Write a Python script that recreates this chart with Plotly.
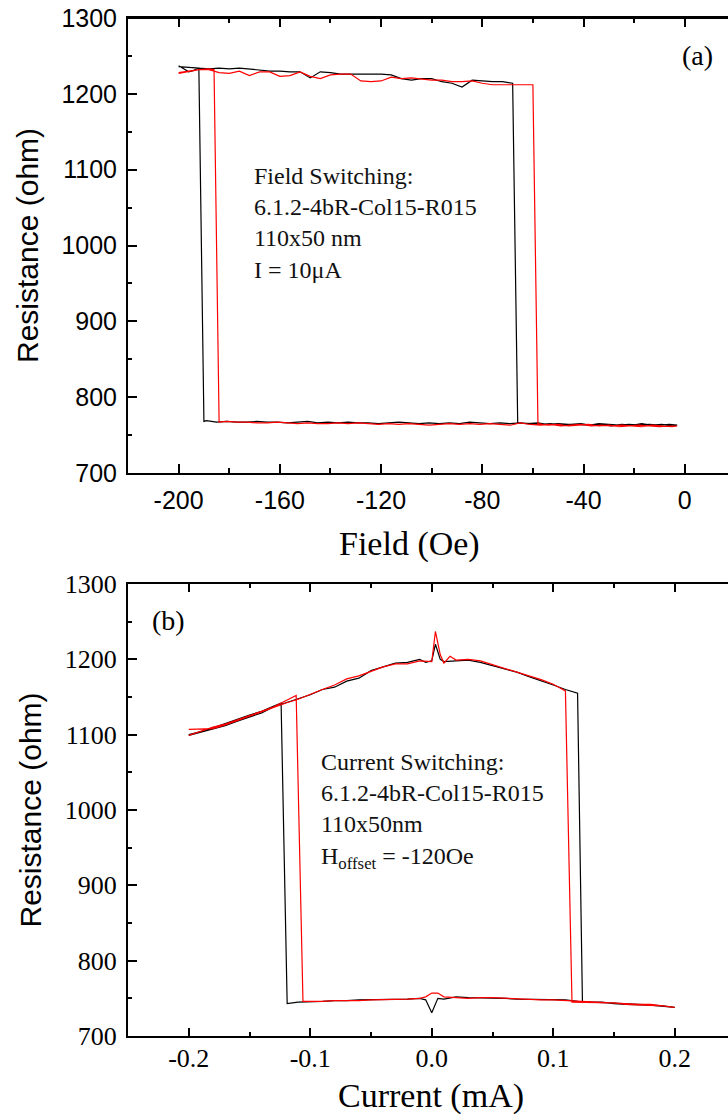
import plotly.graph_objects as go

# ---------------- Panel (a): field switching ----------------
# black loop
a_blk_up_hi_x = [-200, -196, -192, -188, -184, -180, -176, -172, -168, -164, -160, -156, -152, -148, -144, -140, -136,
                 -132, -128, -124, -120, -116, -112, -108, -104, -100, -96, -92, -88, -84, -80, -76, -72, -68]
a_blk_up_hi_y = [1236, 1235, 1234, 1233, 1234, 1233, 1234, 1233, 1232, 1230, 1230, 1229, 1229, 1221, 1229, 1228, 1226,
                 1226, 1226, 1226, 1226, 1225, 1220, 1218, 1220, 1220, 1216, 1214, 1209, 1218, 1217, 1216, 1216, 1214]
a_blk_up_lo_x = [-66, -62, -58, -54, -50, -46, -42, -38, -34, -30, -26, -22, -18, -14, -10, -6, -3]
a_blk_up_lo_y = [766, 765, 766, 764, 765, 764, 764, 763, 765, 764, 763, 764, 763, 764, 763, 764, 763]
a_blk_dn_lo_x = [-5, -9, -13, -17, -21, -25, -29, -33, -37, -41, -45, -49, -53, -57, -61, -65, -69, -73, -77, -81,
                 -85, -89, -93, -97, -101, -105, -109, -113, -117, -121, -125, -129, -133, -137, -141, -145, -149,
                 -153, -157, -161, -165, -169, -173, -177, -181, -185, -189, -190]
a_blk_dn_lo_y = [762, 764, 763, 765, 763, 764, 762, 764, 763, 765, 764, 763, 765, 764, 765, 766, 765, 766, 765, 766,
                 767, 765, 766, 765, 766, 765, 766, 767, 766, 765, 766, 766, 767, 766, 767, 766, 768,
                 767, 766, 767, 767, 768, 767, 767, 768, 767, 769, 768]
a_blk_dn_hi_x = [-192, -194, -196, -198, -200]
a_blk_dn_hi_y = [1234, 1231, 1229, 1233, 1237]

# red loop
a_red_up_hi_x = [-200, -196, -192, -188, -184, -180, -176, -172, -168, -164, -160, -156, -152, -148, -144, -140, -136,
                 -132, -128, -124, -120, -116, -112, -108, -104, -100, -96, -92, -88, -84, -80, -76, -72, -68, -64, -60]
a_red_up_hi_y = [1228, 1230, 1232, 1232, 1228, 1227, 1230, 1224, 1229, 1229, 1223, 1224, 1229, 1223, 1220, 1225, 1226,
                 1226, 1217, 1216, 1217, 1222, 1220, 1221, 1220, 1218, 1218, 1216, 1216, 1217, 1214, 1212, 1212, 1212,
                 1212, 1212]
a_red_up_lo_x = [-58, -54, -50, -46, -42, -38, -34, -30, -26, -22, -18, -14, -10, -6, -3]
a_red_up_lo_y = [765, 763, 764, 762, 763, 764, 762, 763, 761, 762, 763, 762, 761, 762, 762]
a_red_dn_lo_x = [-5, -9, -13, -17, -21, -25, -29, -33, -37, -41, -45, -49, -53, -57, -61, -65, -69, -73, -77, -81,
                 -85, -89, -93, -97, -101, -105, -109, -113, -117, -121, -125, -129, -133, -137, -141, -145, -149,
                 -153, -157, -161, -165, -169, -173, -177, -181, -184]
a_red_dn_lo_y = [761, 762, 763, 761, 762, 763, 762, 763, 762, 764, 763, 762, 764, 763, 764, 766, 763, 764, 765, 764,
                 765, 764, 765, 764, 763, 764, 765, 764, 765, 764, 765, 766, 765, 766, 765, 765, 766,
                 765, 766, 767, 766, 766, 767, 767, 768, 767]
a_red_dn_hi_x = [-186, -188, -192, -196, -200]
a_red_dn_hi_y = [1232, 1233, 1232, 1229, 1227]

a_xtick_vals = [-200, -160, -120, -80, -40, 0]
a_xtick_text = ["-200", "-160", "-120", "-80", "-40", "0"]

# ---------------- Panel (b): current switching ----------------
b_blk_up_hi_x = [-0.20, -0.19, -0.18, -0.17, -0.16, -0.15, -0.14, -0.13, -0.12, -0.11, -0.10, -0.09, -0.08, -0.07,
                 -0.06, -0.05, -0.04, -0.03, -0.02, -0.01, -0.005, 0.0, 0.003, 0.007, 0.01, 0.02, 0.03, 0.04, 0.05,
                 0.06, 0.07, 0.08, 0.09, 0.10, 0.11, 0.12]
b_blk_up_hi_y = [1099, 1103, 1107, 1112, 1118, 1124, 1129, 1137, 1142, 1147, 1153, 1160, 1163, 1171,
                 1175, 1185, 1190, 1195, 1196, 1200, 1196, 1198, 1220, 1200, 1197, 1198, 1199, 1196, 1192,
                 1188, 1183, 1177, 1172, 1166, 1160, 1155]
b_blk_up_lo_x = [0.124, 0.13, 0.14, 0.15, 0.16, 0.17, 0.18, 0.19, 0.20]
b_blk_up_lo_y = [746, 745, 745, 743, 742, 742, 741, 740, 738]
b_blk_dn_lo_x = [0.19, 0.18, 0.17, 0.16, 0.15, 0.14, 0.13, 0.12, 0.11, 0.10, 0.09, 0.08, 0.07, 0.06, 0.05, 0.04,
                 0.03, 0.02, 0.01, 0.005, 0.0, -0.005, -0.01, -0.02, -0.03, -0.04, -0.05, -0.06, -0.07, -0.08,
                 -0.09, -0.10, -0.11, -0.119]
b_blk_dn_lo_y = [740, 741, 742, 743, 744, 745, 746, 746, 748, 748, 749, 748, 749, 750, 750, 750,
                 751, 752, 749, 750, 731, 748, 750, 749, 749, 749, 748, 748, 747, 747,
                 746, 746, 745, 743]
b_blk_dn_hi_x = [-0.124, -0.13, -0.14, -0.15, -0.16, -0.17, -0.18, -0.19, -0.20]
b_blk_dn_hi_y = [1142, 1138, 1131, 1126, 1120, 1114, 1109, 1104, 1100]

b_red_up_hi_x = [-0.20, -0.19, -0.18, -0.17, -0.16, -0.15, -0.14, -0.13, -0.12, -0.11, -0.10, -0.09, -0.08, -0.07,
                 -0.06, -0.05, -0.04, -0.03, -0.02, -0.01, -0.005, 0.0, 0.003, 0.007, 0.01, 0.015, 0.02, 0.03, 0.04,
                 0.05, 0.06, 0.07, 0.08, 0.09, 0.10, 0.11]
b_red_up_hi_y = [1107, 1107, 1108, 1113, 1119, 1124, 1130, 1136, 1142, 1147, 1154, 1160, 1166, 1174,
                 1178, 1184, 1190, 1194, 1194, 1198, 1197, 1197, 1237, 1206, 1195, 1204, 1199, 1200, 1198,
                 1193, 1189, 1184, 1179, 1173, 1167, 1158]
b_red_up_lo_x = [0.1154, 0.12, 0.13, 0.14, 0.15, 0.16, 0.17, 0.18, 0.19, 0.20]
b_red_up_lo_y = [745, 745, 745, 744, 744, 742, 741, 741, 740, 738]
b_red_dn_lo_x = [0.19, 0.18, 0.17, 0.16, 0.15, 0.14, 0.13, 0.12, 0.11, 0.10, 0.09, 0.08, 0.07, 0.06, 0.05, 0.04,
                 0.03, 0.02, 0.01, 0.005, 0.0, -0.005, -0.01, -0.02, -0.03, -0.04, -0.05, -0.06, -0.07, -0.08,
                 -0.09, -0.10, -0.106]
b_red_dn_lo_y = [740, 742, 742, 743, 744, 745, 746, 747, 747, 748, 748, 749, 750, 750, 751, 751,
                 750, 751, 752, 757, 757, 752, 750, 749, 749, 749, 748, 747, 747, 747,
                 746, 746, 746]
b_red_dn_hi_x = [-0.1116, -0.12, -0.13, -0.14, -0.15, -0.16, -0.17, -0.18, -0.19, -0.20]
b_red_dn_hi_y = [1152, 1145, 1137, 1131, 1125, 1119, 1114, 1110, 1104, 1099]

b_xtick_vals = [-0.2, -0.1, 0.0, 0.1, 0.2]
b_xtick_text = ["-0.2", "-0.1", "0.0", "0.1", "0.2"]

y_tick_vals = [700, 800, 900, 1000, 1100, 1200, 1300]

SANS = "Liberation Sans, Arial, sans-serif"
SERIF = "Liberation Serif, Times New Roman, serif"

fig = go.Figure()


def add_loop(xs, ys, color, xa, ya):
    fig.add_trace(go.Scatter(x=xs, y=ys, mode="lines", line=dict(color=color, width=1.2),
                             xaxis=xa, yaxis=ya, showlegend=False, hoverinfo="skip"))


add_loop(a_blk_up_hi_x + a_blk_up_lo_x + a_blk_dn_lo_x + a_blk_dn_hi_x,
         a_blk_up_hi_y + a_blk_up_lo_y + a_blk_dn_lo_y + a_blk_dn_hi_y, "#000000", "x", "y")
add_loop(a_red_up_hi_x + a_red_up_lo_x + a_red_dn_lo_x + a_red_dn_hi_x,
         a_red_up_hi_y + a_red_up_lo_y + a_red_dn_lo_y + a_red_dn_hi_y, "#ff0000", "x", "y")
add_loop(b_blk_up_hi_x + b_blk_up_lo_x + b_blk_dn_lo_x + b_blk_dn_hi_x,
         b_blk_up_hi_y + b_blk_up_lo_y + b_blk_dn_lo_y + b_blk_dn_hi_y, "#000000", "x2", "y2")
add_loop(b_red_up_hi_x + b_red_up_lo_x + b_red_dn_lo_x + b_red_dn_hi_x,
         b_red_up_hi_y + b_red_up_lo_y + b_red_dn_lo_y + b_red_dn_hi_y, "#ff0000", "x2", "y2")

W, H = 728, 1114
xdom = [128 / W, 1.0]
ydom_a = [1 - 473 / H, 1 - 18 / H]
ydom_b = [1 - 1036 / H, 1 - 584 / H]

line_common = dict(showline=True, linewidth=2, linecolor="black", showgrid=False, zeroline=False,
                   tickwidth=2, tickcolor="black", automargin=False)

fig.update_layout(
    width=W, height=H,
    margin=dict(l=0, r=0, t=0, b=0, autoexpand=False),
    paper_bgcolor="white", plot_bgcolor="white",
    title=None,
    xaxis=dict(domain=xdom, anchor="y", range=[-220, 17.1], tickmode="array", mirror="allticks",
               tickvals=a_xtick_vals, ticktext=a_xtick_text, ticks="inside", ticklen=9,
               minor=dict(tickmode="linear", tick0=0, dtick=20, ticks="inside", ticklen=5,
                          tickwidth=1.5, tickcolor="black"),
               tickfont=dict(family=SANS, size=25, color="black"), ticklabelstandoff=4,
               **line_common),
    yaxis=dict(domain=ydom_a, anchor="x", range=[700, 1300], tickmode="array", tickvals=y_tick_vals,
               ticks="inside", ticklen=9,
               minor=dict(tickmode="linear", tick0=0, dtick=50, ticks="inside", ticklen=4,
                          tickwidth=1.5, tickcolor="black"),
               tickfont=dict(family=SANS, size=25, color="black"), ticklabelstandoff=4,
               title=dict(text="Resistance (ohm)", font=dict(family=SANS, size=30, color="black"), standoff=14),
               **line_common),
    xaxis2=dict(domain=xdom, anchor="y2", range=[-0.25, 0.2438], tickmode="array",
                tickvals=b_xtick_vals, ticktext=b_xtick_text, ticks="inside", ticklen=8, mirror="allticks",
                minor=dict(tickmode="linear", tick0=0, dtick=0.05, ticks="inside", ticklen=4,
                           tickwidth=1.5, tickcolor="black"),
                tickfont=dict(family=SERIF, size=26, color="black"), ticklabelstandoff=-2,
                **line_common),
    yaxis2=dict(domain=ydom_b, anchor="x2", range=[700, 1300], tickmode="array", tickvals=y_tick_vals,
                ticks="inside", ticklen=9,
                minor=dict(tickmode="linear", tick0=0, dtick=50, ticks="inside", ticklen=4,
                           tickwidth=1.5, tickcolor="black"),
                tickfont=dict(family=SERIF, size=26, color="black"), ticklabelstandoff=4,
                title=dict(text="Resistance (ohm)", font=dict(family=SANS, size=30, color="black"), standoff=14),
                **line_common),
)

# top frame edge of panel (a), referenced to the paper so it is not clipped by the subplot
fig.add_shape(type="line", xref="paper", yref="paper", x0=xdom[0], x1=xdom[1], y0=ydom_a[1], y1=ydom_a[1],
              line=dict(color="black", width=2), layer="above")

# x-axis titles
fig.add_annotation(xref="paper", yref="paper", x=409 / W, y=1 - 544 / H, xanchor="center", yanchor="middle",
                   showarrow=False, font=dict(family=SERIF, size=34, color="black"), text="Field (Oe)")
fig.add_annotation(xref="paper", yref="paper", x=431 / W, y=1 - 1096 / H, xanchor="center", yanchor="middle",
                   showarrow=False, font=dict(family=SERIF, size=34, color="black"), text="Current (mA)")

fig.add_annotation(xref="x", yref="y", x=-171.0, y=1030, xanchor="left", yanchor="middle", align="left",
                   showarrow=False, font=dict(family=SERIF, size=24, color="#111111"),
                   text="Field Switching:<br>6.1.2-4bR-Col15-R015<br>110x50 nm<br>I = 10\u03bcA")
fig.add_annotation(xref="x", yref="y", x=5.2, y=1250, xanchor="center", yanchor="middle",
                   showarrow=False, font=dict(family=SERIF, size=28, color="black"), text="(a)")
fig.add_annotation(xref="x2", yref="y2", x=-0.0925, y=999, xanchor="left", yanchor="middle", align="left",
                   showarrow=False, font=dict(family=SERIF, size=24, color="#111111"),
                   text="Current Switching:<br>6.1.2-4bR-Col15-R015<br>110x50nm<br>H<sub>offset</sub> = -120Oe")
fig.add_annotation(xref="x2", yref="y2", x=-0.217, y=1251, xanchor="center", yanchor="middle",
                   showarrow=False, font=dict(family=SERIF, size=28, color="black"), text="(b)")

fig.write_html("out.html", config={"displayModeBar": False})
